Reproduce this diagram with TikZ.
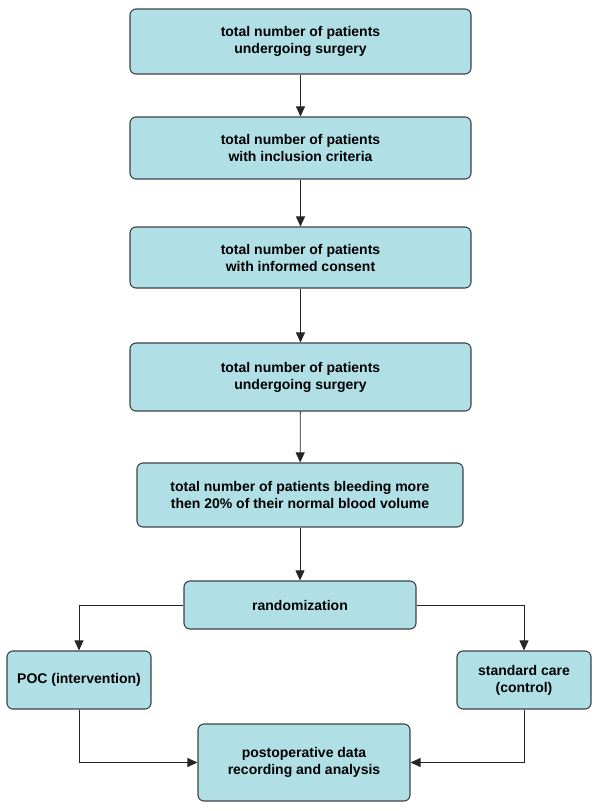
\documentclass[tikz,border=0pt]{standalone}
\usepackage{fontspec}
\setmainfont{Liberation Sans}
\usetikzlibrary{arrows.meta}
\definecolor{boxfill}{RGB}{176,224,230}
\definecolor{boxline}{RGB}{60,66,70}
\tikzset{
  flowbox/.style={draw=boxline, line width=1.1pt, fill=boxfill, rounded corners=6pt,
    align=center, inner sep=0pt, font=\fontsize{14}{17}\selectfont\bfseries},
  arr/.style={draw=black!85, line width=0.8pt, -{Triangle[length=10pt,width=9pt]}}
}
\begin{document}
\begin{tikzpicture}[x=1pt,y=-1pt]
\useasboundingbox (0,0) rectangle (600,811);
\node[flowbox, minimum width=341pt, minimum height=65pt] (b1) at (300.5,41.5) {total number of patients\\undergoing surgery};
\node[flowbox, minimum width=341pt, minimum height=62pt] (b2) at (300.5,148) {total number of patients\\with inclusion criteria};
\node[flowbox, minimum width=341pt, minimum height=61pt] (b3) at (300.5,257.5) {total number of patients\\with informed consent};
\node[flowbox, minimum width=341pt, minimum height=68pt] (b4) at (300.5,377) {total number of patients\\undergoing surgery};
\node[flowbox, minimum width=326pt, minimum height=64pt] (b5) at (300,495) {total number of patients bleeding more\\then 20\% of their normal blood volume};
\node[flowbox, minimum width=232pt, minimum height=48pt] (rand) at (300,605) {randomization};
\node[flowbox, minimum width=144pt, minimum height=58pt] (poc) at (79,680) {POC (intervention)};
\node[flowbox, minimum width=134pt, minimum height=58pt] (std) at (524,680) {standard care\\(control)};
\node[flowbox, minimum width=212pt, minimum height=77pt] (post) at (304,762.5) {postoperative data\\recording and analysis};
\draw[arr] (b1) -- (b2);
\draw[arr] (b2) -- (b3);
\draw[arr] (b3) -- (b4);
\draw[arr] (b4) -- (b5);
\draw[arr] (b5.south -| rand.north) -- (rand.north);
\draw[arr] (rand.west) -| (poc.north);
\draw[arr] (rand.east) -| (std.north);
\draw[arr] (poc.south) |- (post.west);
\draw[arr] (std.south) |- (post.east);
\end{tikzpicture}
\end{document}
